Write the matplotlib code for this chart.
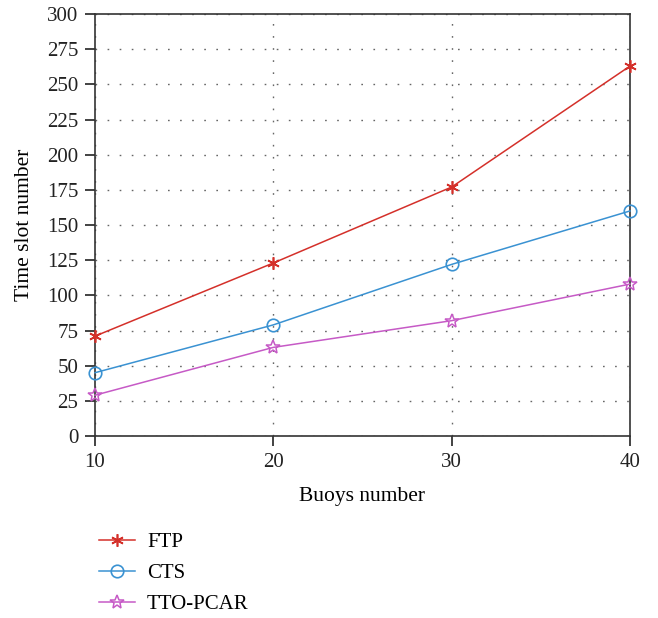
import matplotlib
matplotlib.use("Agg")
import matplotlib.pyplot as plt

buoys = [10, 20, 30, 40]
ftp = [71, 123, 177, 263]
cts = [45, 79, 122, 160]
tto_pcar = [29, 63, 82, 108]

plt.rcParams['font.family'] = ['Liberation Serif', 'DejaVu Serif']

fig = plt.figure(figsize=(6.58, 6.18), dpi=100)
ax = fig.add_axes([0.1444, 0.2945, 0.8130, 0.6828])

style = dict(lw=1.1, clip_on=False, zorder=3)
ax.plot(buoys, ftp, color='#d4302a', marker=(6, 2, 0), markersize=9,
        markeredgewidth=1.2, label='FTP', **style)
ax.plot(buoys, cts, color='#3a92d2', marker='o', markersize=9,
        markerfacecolor='none', markeredgewidth=1.2, label='CTS', **style)
ax.plot(buoys, tto_pcar, color='#c65ac6', marker='*', markersize=10.5,
        markerfacecolor='none', markeredgewidth=1.1, label='TTO-PCAR', **style)

ax.set_xlim(10, 40)
ax.set_ylim(0, 300)
ax.set_xticks([10, 20, 30, 40])
ax.set_yticks(range(0, 301, 25))
ax.grid(True, linestyle=(0, (1.2, 7.5)), color='#666666', linewidth=1.0)
ax.tick_params(direction='out', length=7, width=1.2, labelsize=15,
               colors='#222222', pad=5)
for s in ax.spines.values():
    s.set_linewidth(1.2)
    s.set_color('#333333')

ax.set_xlabel('Buoys number', fontsize=15.5, labelpad=11)
ax.set_ylabel('Time slot number', fontsize=15.5, labelpad=9)

fig.legend(loc='upper left', bbox_to_anchor=(0.138, 0.152), frameon=False,
           fontsize=15, handlelength=1.7, labelspacing=0.55, handletextpad=0.6,
           borderaxespad=0)

fig.savefig('out.png', dpi=100)
